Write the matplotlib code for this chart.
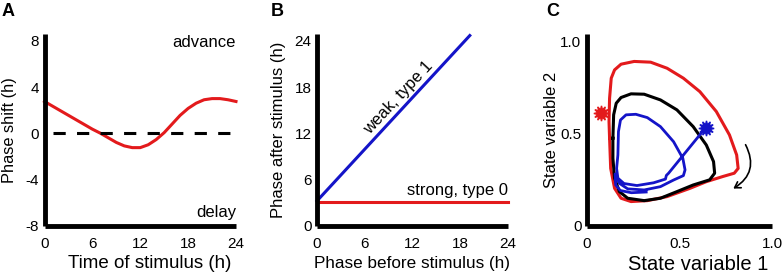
import numpy as np
import matplotlib
matplotlib.use("Agg")
import matplotlib.pyplot as plt
from matplotlib.patches import FancyArrowPatch

plt.rcParams['font.family'] = ['Liberation Sans', 'DejaVu Sans']
plt.rcParams['axes.unicode_minus'] = False

# --- Panel A: phase response curve ---
prc_time = [0, 1, 2, 3, 4, 5, 6, 7, 8, 9, 10, 11, 12, 13, 14, 15, 16, 17, 18, 19, 20, 21, 22, 23, 24]
prc_shift = [2.75, 2.35, 1.95, 1.55, 1.15, 0.75, 0.35, 0.0, -0.4, -0.8, -1.1, -1.25, -1.25,
             -1.0, -0.55, 0.05, 0.8, 1.55, 2.15, 2.6, 2.9, 3.0, 3.0, 2.9, 2.75]
a_ticks_x = [0, 6, 12, 18, 24]
a_ticks_y = [-8, -4, 0, 4, 8]

# --- Panel B: phase transition curves ---
weak_x = [0, 19.2]
weak_y = [3.2, 24.7]
strong_x = [0, 24]
strong_y = [3, 3]
b_ticks = [0, 6, 12, 18, 24]

# --- Panel C: state space trajectories ---
red_x = [0.122, 0.119, 0.122, 0.131, 0.149, 0.184, 0.255, 0.344, 0.433, 0.521, 0.61, 0.699,
         0.77, 0.809, 0.817, 0.796, 0.734, 0.645, 0.557, 0.433, 0.326, 0.238, 0.184, 0.149,
         0.128, 0.122]
red_y = [0.474, 0.564, 0.691, 0.80, 0.845, 0.876, 0.891, 0.887, 0.854, 0.80, 0.727, 0.619,
         0.492, 0.383, 0.31, 0.284, 0.266, 0.238, 0.202, 0.157, 0.135, 0.13, 0.148, 0.202,
         0.31, 0.474]
black_x = [0.14, 0.144, 0.158, 0.184, 0.238, 0.309, 0.397, 0.486, 0.574, 0.645, 0.684, 0.69,
           0.663, 0.574, 0.486, 0.397, 0.309, 0.22, 0.175, 0.149, 0.14, 0.14]
black_y = [0.474, 0.601, 0.664, 0.695, 0.715, 0.713, 0.682, 0.628, 0.537, 0.437, 0.347, 0.284,
           0.248, 0.22, 0.184, 0.148, 0.135, 0.148, 0.184, 0.257, 0.365, 0.474]
blue_x = [0.642, 0.441, 0.429, 0.424, 0.36, 0.27, 0.20, 0.167, 0.16, 0.167, 0.17, 0.181, 0.211,
          0.264, 0.326, 0.397, 0.468, 0.518, 0.53, 0.521, 0.468, 0.397, 0.309, 0.22, 0.175,
          0.152, 0.155, 0.18, 0.24, 0.32]
blue_y = [0.532, 0.284, 0.272, 0.252, 0.232, 0.217, 0.228, 0.257, 0.31, 0.383, 0.51, 0.573,
          0.601, 0.604, 0.586, 0.537, 0.455, 0.365, 0.302, 0.271, 0.247, 0.211, 0.193, 0.199,
          0.229, 0.28, 0.22, 0.19, 0.178, 0.182]
red_star = (0.074, 0.61)
blue_star = (0.642, 0.532)
c_ticks = [0, 0.5, 1.0]
c_ticklabels = ['0', '0.5', '1.0']

fig = plt.figure(figsize=(7.84, 2.74), dpi=100)
W, H = 784, 274


def make_axes(left_px, right_px):
    bottom = 1 - 225.5 / H
    top = 1 - 34 / H
    ax = fig.add_axes([left_px / W, bottom, (right_px - left_px) / W, top - bottom])
    for s in ['top', 'right']:
        ax.spines[s].set_visible(False)
    for s in ['left', 'bottom']:
        ax.spines[s].set_linewidth(3.5)
        ax.spines[s].set_capstyle('butt')
    ax.tick_params(length=0, labelsize=11)
    ax.tick_params(axis='x', pad=8)
    ax.tick_params(axis='y', pad=4)
    return ax


# A
ax1 = make_axes(44.5, 236)
ax1.plot(prc_time, prc_shift, color='#e31a1c', lw=2.2, clip_on=False)
ax1.axhline(0, xmin=0.045, color='black', lw=2.2, dashes=(4, 3.7))
ax1.set_xlim(0, 24)
ax1.set_ylim(-8, 8.6)
ax1.set_xticks(a_ticks_x)
ax1.set_yticks(a_ticks_y)
ax1.set_xlabel('Time of stimulus (h)', fontsize=13.5)
ax1.xaxis.set_label_coords(0.55, -0.155)
ax1.set_ylabel('Phase shift (h)', fontsize=11.8, labelpad=6)
ax1.text(24, 7.9, 'advance', ha='right', va='center', fontsize=12)
ax1.text(24, -6.9, 'delay', ha='right', va='center', fontsize=12)

# B
ax2 = make_axes(317, 508)
ax2.plot(weak_x, weak_y, color='#1414c8', lw=2.2, clip_on=False)
ax2.plot(strong_x, strong_y, color='#e31a1c', lw=2.2, clip_on=False)
ax2.set_xlim(0, 24)
ax2.set_ylim(0, 24.9)
ax2.set_xticks(b_ticks)
ax2.set_yticks(b_ticks)
ax2.set_xlabel('Phase before stimulus (h)', fontsize=12.3)
ax2.xaxis.set_label_coords(0.5, -0.16)
ax2.set_ylabel('Phase after stimulus (h)', fontsize=12, labelpad=6)
ax2.text(10.2, 16.6, 'weak, type 1', rotation=47, ha='center', va='center', fontsize=12,
         rotation_mode='anchor')
ax2.text(24, 4.5, 'strong, type 0', ha='right', va='center', fontsize=12)

# C
ax3 = make_axes(587, 772)
ax3.plot(red_x, red_y, color='#e31a1c', lw=2.2)
ax3.plot(black_x, black_y, color='black', lw=2.2)
ax3.plot(blue_x, blue_y, color='#1414c8', lw=2.0)
ax3.plot(*red_star, marker=(12, 1, 0), ms=11, color='#e31a1c')
ax3.plot(*blue_star, marker=(12, 1, 0), ms=11, color='#1414c8')
arrow = FancyArrowPatch((0.85, 0.452), (0.778, 0.193), connectionstyle='arc3,rad=-0.5',
                        arrowstyle='->,head_length=4,head_width=2.5', color='black', lw=1.2)
ax3.add_patch(arrow)
ax3.set_xlim(0, 1.0)
ax3.set_ylim(0, 1.04)
ax3.set_xticks(c_ticks)
ax3.set_xticklabels(c_ticklabels)
ax3.set_yticks(c_ticks)
ax3.set_yticklabels(c_ticklabels)
ax3.set_xlabel('State variable 1', fontsize=14.5)
ax3.xaxis.set_label_coords(0.6, -0.155)
ax3.set_ylabel('State variable 2', fontsize=12, labelpad=1)

for lbl, xpx in [('A', 2), ('B', 271), ('C', 546)]:
    fig.text(xpx / W, 1 - 12 / H, lbl, fontsize=13, fontweight='bold', ha='left', va='center')

fig.savefig('out.png', dpi=100)
